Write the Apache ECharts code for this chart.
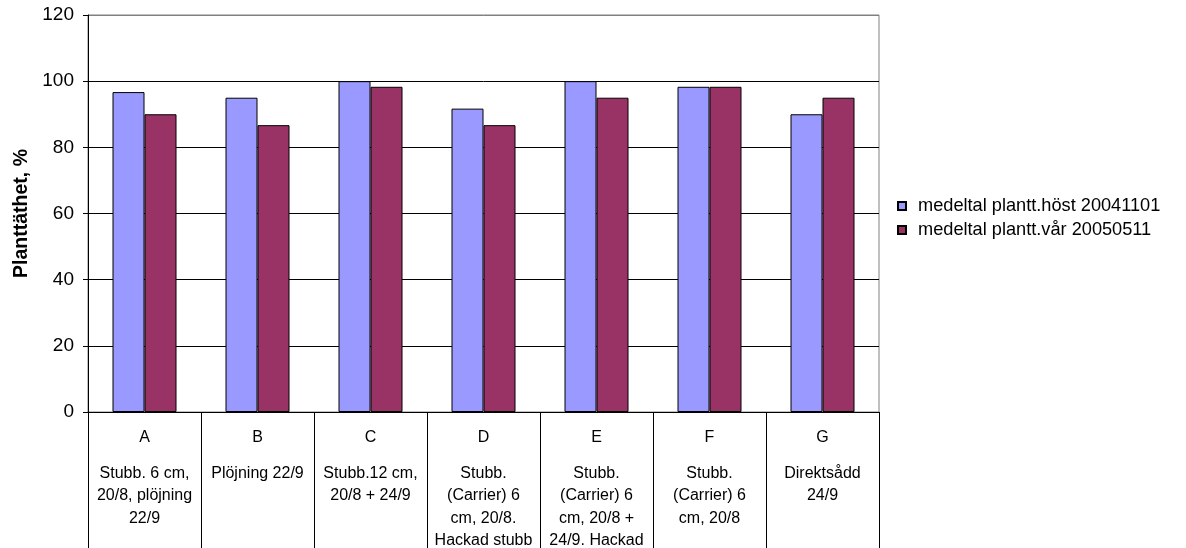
<!DOCTYPE html>
<html>
<head>
<meta charset="utf-8">
<script src="https://cdn.jsdelivr.net/npm/echarts@6/dist/echarts.min.js"></script>
<style>
  html, body { margin: 0; padding: 0; background: #fff; }
  #chart { width: 1186px; height: 548px; }
</style>
</head>
<body>
<div id="chart"></div>
<script>
// Treatment codes and their descriptions (line breaks as laid out under each column)
const letters = ['A', 'B', 'C', 'D', 'E', 'F', 'G'];
const descriptions = [
  'Stubb. 6 cm,\n20/8, plöjning\n22/9',
  'Plöjning 22/9',
  'Stubb.12 cm,\n20/8 + 24/9',
  'Stubb.\n(Carrier) 6\ncm, 20/8.\nHackad stubb',
  'Stubb.\n(Carrier) 6\ncm, 20/8 +\n24/9. Hackad\nstubb',
  'Stubb.\n(Carrier) 6\ncm, 20/8',
  'Direktsådd\n24/9'
];

// Plant density, % (autumn and spring counts)
const seriesNames = ['medeltal plantt.höst 20041101', 'medeltal plantt.vår 20050511'];
const autumn = [96.7, 95.0, 100.0, 91.7, 100.0, 98.3, 90.0];
const spring = [90.0, 86.7, 98.3, 86.7, 95.0, 98.3, 95.0];

const yTitle = 'Planttäthet, %';

const FONT = '"Liberation Sans", Arial, sans-serif';
const chart = echarts.init(document.getElementById('chart'), null, { renderer: 'canvas' });

chart.setOption({
  backgroundColor: '#ffffff',
  animation: false,
  textStyle: { fontFamily: FONT, color: '#000' },
  grid: {
    left: 88, right: 307, top: 15, bottom: 136,
    containLabel: false,
    outerBoundsMode: 'none',
    show: true, borderColor: '#808080', borderWidth: 1, backgroundColor: 'transparent'
  },
  legend: {
    orient: 'vertical',
    left: 892, top: 192,
    itemWidth: 8, itemHeight: 8, itemGap: 6,
    icon: 'rect',
    textStyle: { fontFamily: FONT, fontSize: 18.2, color: '#000', padding: [0, 0, 0, 7] },
    data: seriesNames
  },
  xAxis: {
    type: 'category',
    data: letters,
    boundaryGap: true,
    axisLine: { lineStyle: { color: '#000', width: 1 } },
    axisTick: { show: true, interval: 0, length: 136, lineStyle: { color: '#000', width: 1 } },
    axisLabel: {
      interval: 0,
      margin: 15,
      fontFamily: FONT,
      color: '#000',
      formatter: function (value, idx) {
        const d = descriptions[idx].split('\n').map(s => '{d|' + s + '}').join('\n');
        return '{a|' + value + '}\n{gap| }\n' + d;
      },
      rich: {
        a: { fontFamily: FONT, fontSize: 16, lineHeight: 22, color: '#000' },
        gap: { fontSize: 1, lineHeight: 13 },
        d: { fontFamily: FONT, fontSize: 16, lineHeight: 22.5, color: '#000' }
      }
    }
  },
  yAxis: {
    type: 'value',
    min: 0, max: 120, interval: 20,
    name: yTitle,
    nameLocation: 'middle',
    nameGap: 56,
    nameRotate: 90,
    nameTextStyle: { fontFamily: FONT, fontSize: 19.5, fontWeight: 'bold', color: '#000' },
    axisLine: { show: true, lineStyle: { color: '#000', width: 1 } },
    axisTick: { show: true, length: 5, inside: false, lineStyle: { color: '#000' } },
    axisLabel: { margin: 14, fontFamily: FONT, fontSize: 19, color: '#000' },
    splitLine: {
      show: true,
      lineStyle: { color: ['#000', '#000', '#000', '#000', '#000', '#000', '#808080'], width: 1 }
    }
  },
  series: [
    {
      name: seriesNames[0],
      type: 'bar',
      data: autumn,
      barWidth: 32,
      barGap: '0%',
      itemStyle: { color: '#9999FF', borderColor: '#000', borderWidth: 1 }
    },
    {
      name: seriesNames[1],
      type: 'bar',
      data: spring,
      barWidth: 32,
      barGap: '0%',
      itemStyle: { color: '#993366', borderColor: '#000', borderWidth: 1 }
    }
  ]
});
</script>
</body>
</html>
